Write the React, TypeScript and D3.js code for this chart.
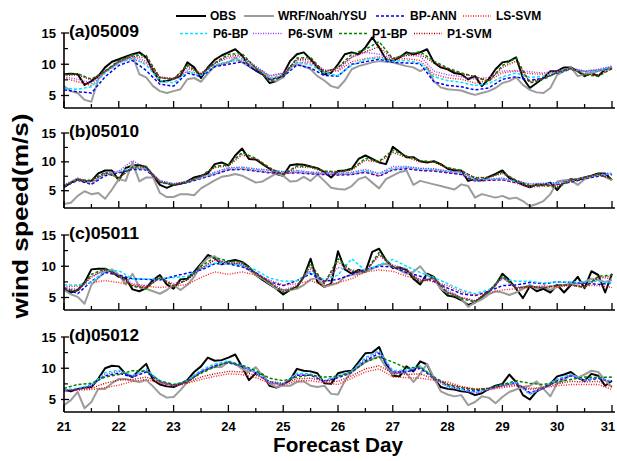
import React from "react";
import * as d3 from "d3";

// 3-hourly observed and WRF wind speed, day 21.000 -> 31.000 (81 values)
const OBS_A = [8.4, 8.5, 8.4, 6.7, 7.3, 8.1, 9.5, 10.4, 10.8, 11.2, 11.6, 11.9, 11.1, 8.9, 7.3, 7.3, 7.7, 8.1, 10.3, 9.5, 7.8, 9.5, 10.7, 11.4, 11.9, 12.4, 11.4, 9.7, 9.0, 8.4, 7.0, 7.3, 8.4, 10.5, 11.6, 11.9, 10.8, 9.5, 8.4, 8.6, 10.0,
  11.6, 11.9, 11.6, 12.7, 14.3, 12.7, 10.8, 10.5, 11.1, 11.9, 11.6, 11.9, 12.4, 10.3, 9.5, 9.2, 8.6, 8.4, 7.6, 8.1, 6.5, 7.6, 9.2, 10.3, 10.5, 11.1, 7.8, 6.2, 7.0, 7.8, 8.9, 8.9, 9.5, 9.5, 8.9, 8.1, 8.6, 8.1, 9.2, 9.5];
const WRF_A = [6.5, 5.7, 5.4, 4.3, 4.0, 7.6, 8.9, 9.5, 10.3, 10.8, 11.4, 8.4, 7.9, 6.5, 5.7, 5.4, 5.7, 6.0, 7.6, 7.8, 7.2, 8.5, 9.7, 10.0, 10.3, 11.0, 10.3, 9.7, 9.3, 8.8, 7.6, 7.3, 7.9, 9.5, 10.0, 9.7, 9.2, 8.1, 7.4, 6.5, 6.2,
  7.4, 9.2, 9.7, 10.0, 10.3, 10.5, 10.4, 10.3, 10.0, 9.7, 9.5, 8.9, 9.5, 7.3, 6.3, 6.0, 5.9, 5.8, 5.4, 5.1, 5.4, 5.7, 6.2, 7.0, 7.3, 7.9, 6.7, 5.9, 5.5, 5.4, 6.2, 8.3, 8.9, 9.5, 8.1, 8.4, 8.6, 8.9, 9.2, 9.5];
const OBS_B = [5.6, 6.4, 7.0, 6.6, 6.7, 8.0, 8.5, 8.5, 6.8, 8.9, 9.4, 9.4, 9.1, 7.6, 6.0, 5.5, 6.0, 6.2, 6.6, 7.3, 7.6, 8.0, 9.6, 9.9, 9.4, 11.1, 12.3, 10.5, 10.4, 9.6, 8.8, 7.9, 7.6, 9.4, 9.6, 9.5, 9.2, 8.9, 8.2, 7.3, 8.4,
  8.5, 8.8, 10.5, 11.1, 10.5, 9.9, 9.6, 12.6, 11.7, 10.8, 10.8, 10.1, 9.9, 10.1, 9.6, 8.8, 8.5, 8.5, 6.7, 7.0, 6.8, 7.4, 7.9, 8.5, 7.2, 6.6, 6.0, 5.6, 6.1, 6.0, 6.4, 5.1, 6.6, 7.0, 6.8, 7.3, 7.6, 8.0, 8.0, 6.8];
const WRF_B = [2.7, 2.9, 4.1, 4.9, 4.4, 4.6, 3.6, 5.2, 7.0, 6.7, 9.9, 6.6, 7.3, 7.3, 4.6, 3.9, 3.9, 4.4, 4.4, 4.2, 5.4, 6.1, 6.8, 7.4, 7.6, 7.9, 7.6, 7.0, 6.4, 6.6, 7.3, 8.0, 7.6, 6.6, 6.7, 7.4, 6.7, 7.8, 6.7, 5.5, 5.3,
  5.2, 5.8, 7.0, 7.4, 6.4, 5.4, 7.0, 7.6, 8.2, 8.5, 6.0, 6.7, 6.4, 6.1, 5.8, 5.5, 5.2, 6.1, 5.8, 3.8, 4.4, 4.1, 3.8, 4.1, 3.6, 3.8, 3.2, 2.3, 2.7, 3.2, 4.4, 6.6, 6.8, 6.8, 6.0, 7.0, 7.4, 7.8, 7.4, 6.8];
const OBS_C = [6.2, 5.8, 6.2, 7.4, 9.5, 9.6, 9.6, 9.1, 8.3, 8.1, 6.3, 6.0, 6.5, 7.8, 8.6, 7.1, 6.4, 7.9, 8.0, 9.1, 10.4, 11.8, 11.3, 10.3, 10.8, 11.0, 10.7, 9.9, 8.6, 7.8, 7.1, 6.4, 5.5, 6.2, 6.7, 8.3, 11.2, 7.5, 6.7, 7.2, 12.4,
  9.5, 8.8, 9.4, 9.1, 12.3, 12.8, 11.0, 9.7, 9.8, 9.4, 8.0, 7.1, 8.8, 8.3, 6.4, 5.3, 5.1, 4.6, 3.8, 4.2, 5.1, 6.0, 7.0, 8.8, 7.8, 6.4, 4.9, 6.8, 6.0, 6.4, 5.8, 7.0, 5.8, 7.0, 8.3, 6.5, 9.2, 8.6, 5.8, 8.8];
const WRF_C = [6.2, 5.5, 5.1, 4.0, 7.0, 8.1, 9.1, 9.5, 8.6, 7.1, 8.8, 6.7, 6.4, 6.0, 5.6, 6.2, 7.0, 6.2, 7.0, 8.3, 10.2, 11.3, 11.6, 10.6, 10.4, 10.4, 10.2, 9.4, 8.6, 8.0, 7.2, 6.4, 6.2, 6.2, 6.4, 7.0, 7.9, 8.1, 6.7, 7.0, 7.3,
  8.3, 8.6, 8.8, 9.1, 9.6, 10.2, 10.4, 9.9, 9.4, 8.8, 9.1, 10.0, 8.6, 7.9, 6.4, 5.8, 5.5, 4.8, 3.5, 4.2, 4.7, 5.5, 6.0, 5.8, 5.4, 5.8, 6.4, 7.0, 6.4, 6.7, 6.2, 6.7, 7.0, 7.2, 7.2, 7.5, 8.0, 7.8, 7.5, 7.8];
const OBS_D = [6.6, 6.3, 6.7, 6.9, 7.0, 8.3, 10.0, 10.4, 10.3, 9.1, 8.6, 9.7, 10.7, 8.1, 7.4, 7.1, 7.0, 7.5, 8.1, 9.4, 10.3, 11.7, 11.2, 11.3, 11.7, 12.2, 10.2, 8.1, 9.2, 9.0, 7.2, 6.9, 7.4, 8.1, 9.9, 9.6, 9.5, 9.2, 7.6, 7.5, 9.2,
  9.5, 9.6, 11.0, 12.4, 12.5, 13.4, 10.7, 8.8, 8.7, 10.3, 9.5, 11.1, 10.6, 8.3, 7.0, 6.7, 6.6, 6.3, 6.2, 5.7, 6.0, 6.7, 7.2, 7.5, 9.0, 7.8, 5.7, 5.0, 6.3, 6.9, 7.5, 8.7, 9.0, 9.4, 8.5, 8.0, 9.1, 8.8, 7.2, 8.0];
const WRF_D = [4.1, 4.9, 6.2, 3.6, 4.6, 6.7, 6.7, 7.6, 8.3, 8.3, 8.0, 7.8, 8.1, 7.1, 5.9, 5.3, 5.4, 6.5, 7.8, 8.7, 9.4, 9.9, 10.2, 10.2, 11.0, 10.7, 9.9, 9.4, 10.2, 8.8, 7.5, 7.0, 7.2, 7.2, 7.8, 7.9, 7.2, 7.0, 7.2, 5.9, 5.8,
  8.0, 9.5, 10.2, 11.0, 11.5, 11.9, 10.2, 9.0, 9.4, 9.2, 7.8, 9.1, 10.7, 8.5, 6.3, 5.8, 5.5, 5.7, 4.1, 4.6, 5.5, 5.3, 4.4, 5.4, 6.2, 6.6, 7.0, 7.2, 7.9, 6.7, 5.5, 7.6, 8.1, 9.0, 8.5, 9.0, 9.6, 9.4, 8.1, 7.0];

// 6-hourly model forecasts, day 21.00 -> 31.00 (41 values)
const BP_A = [5.9, 5.6, 5.4, 8.0, 9.8, 10.6, 9.0, 6.8, 6.5, 8.6, 8.0, 9.6, 10.0, 10.4, 9.0, 7.6, 8.0, 9.9, 9.4, 8.2, 8.1, 10.0, 10.4, 10.8, 10.3, 10.2, 10.1, 7.2, 6.6, 6.4, 5.9, 6.2, 7.6, 8.0, 7.4, 7.8, 8.6, 9.2, 8.8, 9.0, 9.4];
const LS_A = [7.8, 7.2, 6.6, 8.8, 10.4, 10.8, 10.2, 7.9, 7.5, 8.9, 8.4, 9.8, 10.4, 10.7, 9.4, 8.1, 8.5, 10.3, 10.2, 9.0, 8.9, 10.4, 10.9, 11.2, 10.8, 10.9, 10.6, 8.4, 7.8, 7.6, 7.0, 7.4, 8.6, 8.9, 8.5, 8.4, 8.8, 9.3, 8.9, 9.1, 9.5];
const P6BP_A = [6.2, 6.0, 6.4, 8.6, 10.2, 11.0, 9.9, 7.4, 7.0, 8.8, 8.2, 9.9, 10.4, 10.9, 9.5, 7.8, 8.3, 10.3, 9.9, 8.6, 8.2, 9.8, 10.8, 11.0, 10.5, 10.6, 10.2, 8.0, 7.4, 7.1, 6.6, 6.9, 8.0, 8.6, 7.9, 8.1, 8.7, 9.3, 8.7, 9.0, 9.6];
const P6SVM_A = [8.0, 7.6, 7.0, 9.0, 10.5, 11.2, 10.5, 8.0, 7.7, 9.3, 8.6, 10.2, 11.0, 11.2, 9.7, 8.2, 8.6, 10.7, 10.4, 9.1, 9.0, 11.1, 11.9, 11.6, 11.0, 11.4, 11.3, 8.9, 8.3, 8.0, 7.6, 7.9, 8.9, 9.0, 8.8, 8.6, 9.0, 9.4, 8.9, 9.2, 9.7];
const P1BP_A = [8.3, 8.5, 7.6, 8.9, 10.6, 11.5, 11.4, 7.8, 7.6, 9.9, 8.4, 10.2, 11.6, 11.7, 9.4, 7.3, 8.1, 11.0, 11.1, 8.7, 9.5, 11.6, 12.4, 13.6, 10.9, 11.6, 12.0, 10.5, 9.4, 8.6, 8.0, 7.2, 9.8, 11.0, 7.0, 7.6, 8.7, 9.4, 8.3, 8.1, 9.3];
const P1SVM_A = [8.2, 8.3, 7.5, 8.8, 10.4, 11.3, 11.0, 7.9, 7.7, 9.6, 8.5, 10.1, 11.3, 11.4, 9.4, 7.5, 8.2, 10.8, 10.8, 8.8, 9.4, 11.2, 12.0, 12.8, 10.8, 11.4, 11.6, 10.2, 9.2, 8.5, 8.0, 7.4, 9.5, 10.5, 7.2, 7.8, 8.7, 9.3, 8.4, 8.3, 9.3];

const BP_B = [5.7, 6.8, 6.1, 7.6, 8.1, 8.7, 8.6, 6.5, 6.0, 6.4, 7.1, 7.8, 8.6, 8.7, 8.4, 8.1, 8.0, 8.1, 7.9, 7.8, 7.7, 7.8, 8.2, 7.5, 8.6, 8.8, 8.5, 8.4, 8.1, 7.8, 6.7, 6.8, 6.9, 6.4, 5.8, 5.9, 6.1, 6.5, 7.1, 7.5, 7.8];
const LS_B = [5.8, 7.1, 6.2, 7.8, 8.2, 8.9, 8.7, 6.5, 6.1, 6.5, 7.2, 7.9, 8.7, 8.8, 8.5, 8.2, 8.0, 8.2, 8.0, 7.9, 7.8, 7.9, 8.3, 7.6, 8.7, 9.0, 8.6, 8.5, 8.2, 7.9, 6.6, 6.8, 6.9, 6.3, 5.6, 5.8, 6.0, 6.5, 7.2, 7.6, 7.9];
const P6BP_B = [5.9, 7.0, 6.4, 7.9, 8.3, 9.0, 8.8, 6.7, 6.2, 6.6, 7.3, 8.1, 8.9, 9.0, 8.7, 8.5, 8.3, 8.4, 8.2, 8.1, 8.0, 8.1, 8.5, 7.9, 8.9, 9.1, 8.8, 8.7, 8.4, 8.1, 6.9, 7.0, 7.1, 6.6, 6.1, 6.2, 6.3, 6.7, 7.3, 7.7, 8.0];
const P6SVM_B = [6.0, 7.2, 6.5, 8.0, 8.4, 10.2, 8.9, 6.8, 6.2, 6.6, 7.4, 8.2, 9.0, 9.1, 8.8, 8.6, 8.3, 8.5, 8.2, 8.1, 8.0, 8.2, 8.7, 8.0, 9.2, 9.2, 8.9, 8.8, 8.4, 8.2, 7.0, 7.0, 7.2, 6.7, 6.2, 6.3, 6.4, 6.8, 7.4, 7.8, 8.1];
const P1BP_B = [5.8, 6.9, 6.8, 8.2, 7.2, 9.1, 9.2, 6.4, 6.0, 6.5, 7.5, 9.2, 9.5, 11.6, 10.6, 9.0, 7.8, 9.3, 9.2, 8.4, 8.3, 8.7, 10.6, 10.1, 12.0, 11.0, 10.2, 10.0, 9.0, 8.5, 7.2, 7.3, 8.2, 6.8, 5.8, 6.0, 5.5, 6.8, 7.3, 7.9, 7.0];
const P1SVM_B = [5.9, 6.8, 6.7, 8.0, 7.3, 8.9, 9.0, 6.6, 6.1, 6.6, 7.5, 9.0, 9.3, 11.2, 10.4, 8.9, 7.8, 9.1, 9.0, 8.3, 8.2, 8.6, 10.3, 9.9, 11.6, 10.8, 10.0, 9.9, 8.9, 8.4, 7.3, 7.3, 8.0, 6.8, 5.9, 6.1, 5.7, 6.8, 7.3, 7.8, 7.1];

const BP_C = [6.6, 5.6, 7.6, 9.0, 8.6, 8.0, 7.9, 7.8, 8.4, 8.9, 9.4, 10.4, 10.4, 9.9, 9.0, 7.5, 6.9, 7.7, 8.8, 7.6, 7.9, 8.7, 9.5, 10.0, 9.9, 9.0, 8.4, 7.6, 6.5, 5.6, 5.3, 6.0, 6.9, 7.0, 7.4, 7.2, 7.5, 7.4, 7.3, 7.1, 7.3];
const LS_C = [6.8, 6.8, 7.4, 7.7, 7.4, 7.0, 6.8, 6.6, 6.8, 7.1, 8.2, 9.1, 8.7, 9.1, 8.6, 7.8, 7.0, 7.2, 7.7, 6.9, 7.4, 8.0, 9.1, 9.4, 9.2, 8.4, 7.9, 7.5, 6.9, 5.9, 5.4, 5.7, 6.2, 6.4, 6.6, 6.9, 6.7, 6.9, 6.9, 6.9, 6.6];
const P6BP_C = [7.0, 7.0, 7.4, 9.3, 9.3, 8.0, 7.9, 8.0, 8.2, 8.4, 9.6, 10.5, 10.4, 10.2, 9.4, 8.1, 7.6, 7.7, 9.1, 7.8, 8.6, 11.2, 9.3, 10.2, 11.1, 10.0, 9.0, 8.2, 7.2, 6.2, 5.6, 6.2, 8.0, 7.6, 7.6, 7.3, 7.5, 7.5, 7.5, 7.6, 7.3];
const P6SVM_C = [6.6, 6.3, 8.2, 9.4, 8.6, 7.2, 6.9, 8.1, 7.2, 7.8, 9.6, 11.0, 10.6, 10.4, 9.0, 7.6, 6.2, 6.9, 9.5, 7.4, 9.8, 9.4, 9.2, 11.8, 10.2, 9.6, 7.8, 8.1, 6.1, 5.0, 4.4, 5.8, 8.2, 6.6, 6.8, 6.6, 7.0, 7.0, 6.7, 8.2, 8.0];
const P1BP_C = [6.3, 6.0, 8.7, 9.6, 8.5, 6.8, 6.4, 8.3, 6.8, 7.9, 10.0, 11.4, 10.8, 10.7, 8.9, 7.4, 5.8, 6.6, 10.4, 7.2, 11.2, 9.2, 9.1, 12.2, 10.0, 9.5, 7.4, 8.3, 5.6, 4.8, 4.3, 5.9, 8.5, 6.5, 6.8, 6.5, 7.0, 7.0, 6.6, 8.4, 8.6];
const P1SVM_C = [6.4, 6.1, 8.4, 9.4, 8.4, 6.9, 6.6, 8.1, 6.9, 7.8, 9.7, 11.0, 10.5, 10.5, 8.8, 7.4, 6.0, 6.7, 9.9, 7.3, 10.7, 9.1, 9.1, 11.8, 9.9, 9.4, 7.5, 8.1, 5.8, 5.0, 4.5, 5.9, 8.2, 6.5, 6.8, 6.5, 6.9, 7.0, 6.6, 8.2, 8.4];

const BP_D = [6.4, 6.6, 7.4, 8.8, 9.2, 8.6, 9.4, 7.8, 7.2, 7.8, 9.4, 10.4, 10.9, 10.3, 9.3, 7.8, 7.4, 8.9, 8.9, 7.9, 8.5, 9.3, 11.2, 12.4, 9.4, 9.4, 10.0, 8.4, 7.2, 6.7, 6.3, 6.7, 7.3, 7.7, 6.1, 6.8, 8.0, 8.8, 8.0, 8.4, 7.8];
const LS_D = [6.5, 6.5, 6.6, 6.9, 7.3, 7.9, 8.2, 7.6, 7.1, 7.6, 8.2, 8.7, 9.1, 9.0, 8.5, 7.6, 7.3, 8.0, 8.0, 7.7, 7.4, 8.4, 9.4, 9.9, 8.6, 8.5, 8.4, 8.1, 7.8, 7.1, 6.7, 6.6, 6.9, 7.2, 6.8, 6.9, 7.2, 7.4, 7.4, 7.4, 6.6];
const P6BP_D = [6.5, 6.8, 7.3, 9.3, 9.7, 8.8, 9.9, 7.9, 7.3, 8.0, 9.7, 10.7, 11.2, 10.4, 9.4, 7.8, 7.5, 9.2, 9.1, 8.0, 8.8, 9.5, 11.7, 12.8, 9.6, 9.7, 10.4, 8.5, 7.1, 6.6, 6.1, 6.7, 7.4, 7.7, 5.8, 6.9, 8.3, 9.0, 8.1, 8.6, 7.9];
const P6SVM_D = [6.4, 6.7, 7.1, 9.0, 9.5, 8.7, 9.7, 7.8, 7.2, 7.9, 9.5, 10.5, 11.0, 10.3, 9.2, 7.6, 7.4, 9.0, 9.0, 7.9, 8.6, 9.4, 11.5, 12.6, 9.4, 9.5, 10.2, 8.3, 7.0, 6.5, 6.0, 6.5, 7.2, 7.6, 5.9, 6.8, 8.1, 8.9, 8.0, 8.5, 7.8];
const P1BP_D = [6.8, 7.4, 7.6, 8.6, 9.0, 9.6, 9.5, 8.0, 7.4, 7.9, 9.2, 10.2, 11.0, 10.5, 9.6, 8.4, 8.0, 8.6, 8.9, 8.6, 8.7, 9.4, 11.0, 11.8, 11.0, 10.0, 10.2, 8.6, 7.4, 6.9, 6.6, 6.8, 7.4, 8.0, 7.6, 7.4, 7.8, 8.2, 8.6, 8.5, 8.6];
const P1SVM_D = [6.3, 6.6, 6.8, 7.6, 8.1, 8.2, 8.6, 7.8, 7.3, 7.7, 8.6, 9.1, 9.5, 9.4, 8.9, 7.9, 7.6, 8.3, 8.4, 8.0, 7.9, 8.8, 9.9, 10.4, 9.2, 9.0, 9.1, 8.3, 7.5, 7.0, 6.6, 6.8, 7.1, 7.4, 6.6, 6.9, 7.5, 7.9, 7.8, 7.9, 7.0];

const PANEL_LABELS = ["(a)05009", "(b)05010", "(c)05011", "(d)05012"];
const Y_MIN = [3, 2, 3, 3];
const Y_TICKS = [5, 10, 15];
const X_TICKS = [21, 22, 23, 24, 25, 26, 27, 28, 29, 30, 31];

const SERIES = [
  { name: "OBS", color: "#000000", width: 2, dash: null },
  { name: "WRF/Noah/YSU", color: "#9c9c9c", width: 2, dash: null },
  { name: "BP-ANN", color: "#0000ff", width: 1.5, dash: "3,2" },
  { name: "LS-SVM", color: "#ff1a1a", width: 1.4, dash: "1,1.5" },
  { name: "P6-BP", color: "#00e5ff", width: 1.5, dash: "3,2" },
  { name: "P6-SVM", color: "#9933ff", width: 1.4, dash: "1,1.5" },
  { name: "P1-BP", color: "#008000", width: 1.5, dash: "3,2" },
  { name: "P1-SVM", color: "#b00000", width: 1.4, dash: "1,1.5" },
];

const PANEL_DATA = [
  [OBS_A, WRF_A, BP_A, LS_A, P6BP_A, P6SVM_A, P1BP_A, P1SVM_A],
  [OBS_B, WRF_B, BP_B, LS_B, P6BP_B, P6SVM_B, P1BP_B, P1SVM_B],
  [OBS_C, WRF_C, BP_C, LS_C, P6BP_C, P6SVM_C, P1BP_C, P1SVM_C],
  [OBS_D, WRF_D, BP_D, LS_D, P6BP_D, P6SVM_D, P1BP_D, P1SVM_D],
];

// legend layout: [lineStart, lineEnd, textX, row]
const LEGEND_POS = [
  [176, 206, 210, 0],
  [244, 274, 278, 0],
  [376, 405, 410, 0],
  [463, 491, 496, 0],
  [180, 207, 213, 1],
  [253, 283, 288, 1],
  [339, 367, 372, 1],
  [414, 442, 447, 1],
];

const W = 617;
const H = 461;
const X0 = 64;
const X1 = 612;
const TOPS = [33, 133, 235, 337];
const PH = 75;
const FONT = "Arial, 'Liberation Sans', sans-serif";

export default function App() {
  const x = d3.scaleLinear().domain([21, 31]).range([X0, X1]);
  const halfDays = d3.range(21, 31.01, 0.5);

  return (
    <svg
      width={W}
      height={H}
      style={{ position: "absolute", left: 0, top: 0, background: "#fff" }}
      fontFamily={FONT}
      fontWeight="bold"
    >
      {PANEL_DATA.map((series, p) => {
        const top = TOPS[p];
        const y = d3.scaleLinear().domain([Y_MIN[p], 15]).range([top + PH, top]);
        const minor = [7.5, 12.5];
        return (
          <g key={p}>
            {series.map((vals, s) => {
              const step = 10 / (vals.length - 1);
              const line = d3
                .line<number>()
                .x((_, i) => x(21 + i * step))
                .y((d) => y(d));
              const st = SERIES[s];
              return (
                <path
                  key={s}
                  d={line(vals) || ""}
                  fill="none"
                  stroke={st.color}
                  strokeWidth={st.width}
                  strokeDasharray={st.dash || undefined}
                  strokeLinejoin="round"
                />
              );
            })}
            {/* axes */}
            <line x1={X0} x2={X0} y1={top} y2={top + PH} stroke="#000" strokeWidth={1.6} />
            <line x1={X0} x2={X1 + 3} y1={top + PH} y2={top + PH} stroke="#000" strokeWidth={1.6} />
            {halfDays.map((d) => {
              const major = Number.isInteger(d);
              return (
                <line
                  key={d}
                  x1={x(d)}
                  x2={x(d)}
                  y1={top + PH}
                  y2={top + PH - (major ? 7 : 4)}
                  stroke="#000"
                  strokeWidth={1.3}
                />
              );
            })}
            {Y_TICKS.map((t) => (
              <g key={t}>
                <line x1={X0 - 3} x2={X0 + 5} y1={y(t)} y2={y(t)} stroke="#000" strokeWidth={1.3} />
                <text x={56} y={y(t)} dy="0.35em" textAnchor="end" fontSize={13}>
                  {t}
                </text>
              </g>
            ))}
            {minor.map((t) => (
              <line key={t} x1={X0} x2={X0 + 4} y1={y(t)} y2={y(t)} stroke="#000" strokeWidth={1.2} />
            ))}
            <text x={69} y={top + 3.5} fontSize={16} textLength={70} lengthAdjust="spacingAndGlyphs">
              {PANEL_LABELS[p]}
            </text>
            {p === PANEL_DATA.length - 1 &&
              X_TICKS.map((t) => (
                <text key={t} x={Math.min(x(t), W - 9)} y={431} textAnchor="middle" fontSize={13}>
                  {t}
                </text>
              ))}
          </g>
        );
      })}

      {/* legend */}
      {SERIES.map((st, i) => {
        const [a, b, tx, row] = LEGEND_POS[i];
        const ly = row === 0 ? 16 : 33.5;
        return (
          <g key={st.name}>
            <line
              x1={a}
              x2={b}
              y1={ly}
              y2={ly}
              stroke={st.color}
              strokeWidth={st.width}
              strokeDasharray={st.dash || undefined}
            />
            <text x={tx} y={ly + 4.3} fontSize={12}>
              {st.name}
            </text>
          </g>
        );
      })}

      <text x={338} y={452} textAnchor="middle" fontSize={20} textLength={130} lengthAdjust="spacingAndGlyphs">
        Forecast Day
      </text>
      <text
        transform="translate(28,216) rotate(-90)"
        textAnchor="middle"
        fontSize={22}
        textLength={205}
        lengthAdjust="spacingAndGlyphs"
      >
        wind speed(m/s)
      </text>
    </svg>
  );
}
